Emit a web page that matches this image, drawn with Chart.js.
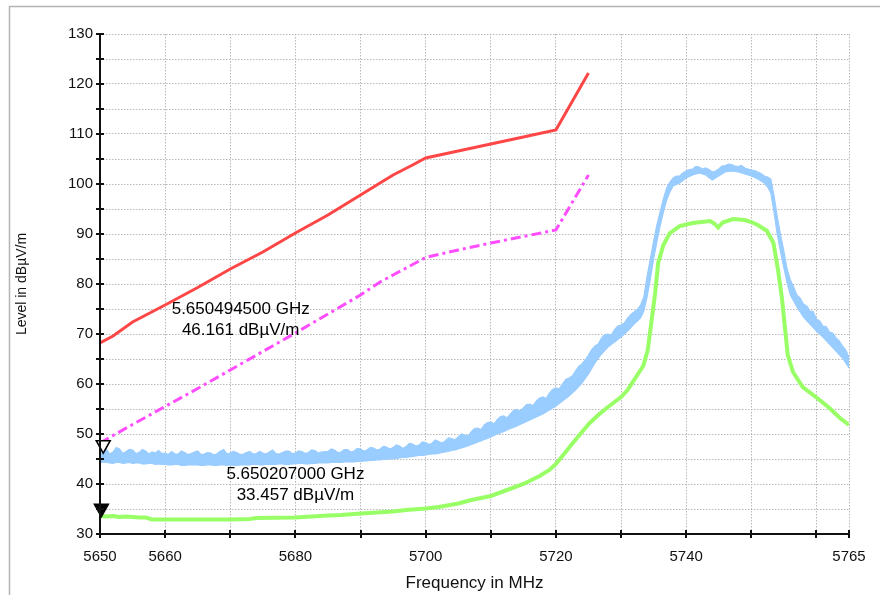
<!DOCTYPE html>
<html>
<head>
<meta charset="utf-8">
<script src="https://cdn.jsdelivr.net/npm/chart.js@4.4.1/dist/chart.umd.min.js"></script>
<style>
  html, body { margin: 0; padding: 0; background: #fff; }
  canvas { display: block; }
</style>
</head>
<body>
<canvas id="chart" width="880" height="595"></canvas>
<script>
// limit lines (red = peak limit, magenta = average limit)
const limitFreq = [5650, 5652, 5655, 5660, 5665, 5670, 5675, 5680, 5685, 5690, 5693, 5695, 5698, 5700, 5705, 5710, 5715, 5720, 5725];
const limitPeak = [68.2, 69.6, 72.4, 75.8, 79.3, 83.0, 86.4, 90.2, 93.8, 97.8, 100.2, 101.8, 103.8, 105.2, 106.6, 108.0, 109.4, 110.8, 122.2];
const limitAvg  = [48.2, 49.7, 51.9, 55.5, 59.1, 62.8, 66.5, 70.2, 74.0, 77.8, 80.4, 81.8, 83.9, 85.3, 86.8, 88.2, 89.5, 90.8, 101.8];

// peak trace (noisy), top and bottom of the band, one value every 0.5 MHz from 5650 to 5765
const peakStart = 5650;
const peakStep = 0.5;
const peakHigh = [
  46.6, 46.2, 46.9, 46.0, 46.4, 47.3, 47.0, 46.1, 46.5, 46.9,
  46.8, 46.1, 46.3, 46.9, 46.6, 46.0, 46.4, 46.2, 46.7, 46.1,
  46.2, 45.9, 46.5, 46.0, 46.0, 46.6, 46.3, 45.9, 46.1, 46.4,
  46.6, 45.9, 46.0, 46.3, 46.2, 45.8, 46.1, 46.6, 46.9, 46.0,
  46.2, 46.5, 46.3, 45.9, 46.0, 46.3, 46.5, 46.0, 46.1, 46.5,
  46.2, 46.0, 46.4, 46.8, 46.1, 46.0, 46.3, 46.6, 46.6, 46.1,
  46.2, 46.6, 46.5, 46.1, 46.3, 46.8, 46.7, 46.2, 46.4, 46.5,
  46.5, 47.0, 46.8, 46.3, 46.4, 46.9, 46.9, 46.4, 46.6, 47.1,
  47.0, 46.6, 46.8, 47.3, 47.2, 46.8, 47.0, 47.5, 47.4, 47.0,
  47.3, 47.8, 47.6, 47.1, 47.5, 48.1, 48.0, 47.6, 47.8, 48.4,
  48.3, 47.9, 48.2, 48.8, 48.5, 48.2, 48.6, 49.2, 49.1, 48.8,
  49.4, 50.0, 49.8, 49.6, 50.4, 51.1, 51.2, 50.9, 51.8, 52.3,
  52.4, 52.0, 52.9, 53.5, 53.6, 53.2, 54.0, 54.7, 54.9, 54.6,
  55.2, 55.9, 56.0, 55.7, 56.6, 57.2, 57.4, 57.1, 58.2, 58.9,
  59.2, 59.0, 60.0, 60.9, 61.2, 61.6, 62.6, 63.5, 64.0, 64.8,
  65.8, 66.9, 67.6, 68.0, 69.2, 69.9, 70.0, 69.8, 70.9, 71.6,
  71.8, 72.2, 73.2, 73.9, 74.4, 74.9, 75.8, 77.4, 81.6, 85.0,
  88.6, 91.8, 94.4, 97.0, 99.2, 100.4, 101.2, 101.6, 101.6, 102.2,
  102.6, 102.9, 103.0, 103.5, 103.4, 103.0, 103.2, 102.9, 102.4, 102.6,
  103.0, 103.6, 103.7, 104.0, 103.9, 103.6, 103.5, 103.7, 103.2, 103.0,
  102.8, 102.7, 102.4, 102.1, 101.6, 101.4, 101.0, 97.6, 93.4, 89.8,
  86.6, 83.0, 80.8, 79.4, 77.8, 77.2, 76.0, 75.6, 74.6, 74.5,
  73.0, 72.6, 71.6, 71.5, 70.4, 70.2, 69.2, 68.6, 67.6, 66.8,
  65.4
];
const peakLow = [
  44.2, 44.4, 44.3, 44.2, 44.1, 44.3, 44.3, 44.1, 44.2, 44.3,
  44.1, 44.2, 44.2, 44.0, 44.0, 44.1, 44.1, 43.9, 44.0, 43.9,
  43.9, 43.8, 43.8, 43.9, 43.9, 43.7, 43.7, 43.8, 43.8, 43.8,
  43.8, 43.7, 43.7, 43.8, 43.8, 43.7, 43.7, 43.8, 43.8, 43.7,
  43.8, 43.7, 43.7, 43.8, 43.8, 43.8, 43.8, 43.9, 43.9, 43.8,
  43.8, 43.9, 43.9, 43.9, 43.9, 44.0, 44.0, 43.9, 43.9, 44.0,
  44.0, 44.1, 44.1, 44.0, 44.0, 44.1, 44.1, 44.2, 44.2, 44.2,
  44.2, 44.3, 44.3, 44.3, 44.3, 44.4, 44.4, 44.4, 44.4, 44.5,
  44.5, 44.6, 44.6, 44.7, 44.7, 44.8, 44.8, 44.9, 44.9, 45.0,
  45.0, 45.1, 45.2, 45.3, 45.3, 45.4, 45.5, 45.6, 45.7, 45.7,
  45.8, 45.9, 46.0, 46.0, 46.1, 46.3, 46.4, 46.5, 46.7, 46.8,
  47.0, 47.2, 47.4, 47.6, 47.9, 48.1, 48.4, 48.6, 48.9, 49.1,
  49.4, 49.7, 50.0, 50.2, 50.5, 50.8, 51.1, 51.3, 51.6, 51.9,
  52.2, 52.5, 52.8, 53.1, 53.4, 53.7, 54.0, 54.4, 54.8, 55.2,
  55.6, 56.1, 56.6, 57.1, 57.6, 58.2, 58.8, 59.5, 60.2, 61.1,
  62.0, 63.1, 64.2, 65.1, 66.0, 66.7, 67.4, 67.9, 68.4, 68.9,
  69.4, 70.0, 70.6, 71.3, 72.0, 72.6, 73.2, 74.6, 77.4, 81.0,
  85.0, 88.4, 91.6, 94.4, 96.8, 98.4, 99.6, 99.9, 100.2, 100.7,
  101.2, 101.5, 101.8, 102.0, 102.2, 102.0, 101.8, 101.3, 100.8, 101.2,
  101.6, 102.0, 102.4, 102.5, 102.6, 102.5, 102.4, 102.2, 102.0, 101.8,
  101.6, 101.3, 101.0, 100.6, 100.2, 99.4, 98.2, 94.2, 89.8, 86.4,
  83.2, 80.2, 77.8, 76.6, 75.4, 74.4, 73.4, 72.7, 72.0, 71.3,
  70.6, 70.0, 69.4, 68.7, 68.0, 67.3, 66.6, 65.9, 65.2, 64.2,
  63.2
];

// average trace
const avgFreq = [5650, 5651, 5652, 5653, 5654, 5655, 5656, 5657, 5658, 5660, 5665, 5670, 5673, 5674, 5680, 5685, 5687, 5690, 5695, 5697, 5700, 5702, 5705, 5707, 5710, 5712.5, 5715, 5717.5, 5719, 5720, 5721, 5722.6, 5724, 5725.2, 5726.5, 5727.8, 5729, 5730, 5731, 5731.8, 5732.6, 5733.4, 5734.1, 5734.7, 5735.2, 5735.7, 5736.5, 5737.5, 5739, 5741, 5743.7, 5744.4, 5744.9, 5745.6, 5747.2, 5749, 5750, 5751, 5752.4, 5753.4, 5754.1, 5754.7, 5755.2, 5755.6, 5756.4, 5757.9, 5760.1, 5762, 5763.6, 5765];
const avgLevel = [33.6, 33.5, 33.6, 33.4, 33.5, 33.4, 33.3, 33.3, 32.9, 32.9, 32.9, 32.9, 33.0, 33.2, 33.3, 33.7, 33.8, 34.1, 34.5, 34.8, 35.1, 35.4, 36.1, 36.8, 37.6, 38.8, 40.0, 41.6, 42.8, 44.0, 45.6, 48.2, 50.4, 52.2, 53.8, 55.2, 56.4, 57.4, 58.8, 60.4, 62.0, 63.6, 66.8, 72.8, 77.8, 84.2, 87.8, 90.2, 91.6, 92.2, 92.6, 92.0, 91.3, 92.3, 93.0, 92.8, 92.4, 91.8, 90.6, 88.2, 82.8, 77.2, 70.8, 65.8, 62.4, 59.4, 57.2, 55.2, 53.2, 51.8];

// markers
const markerFreq = [5650.4945, 5650.207];
const markerLevel = [46.161, 33.457];
const markerFilled = [false, true];
const markerText = [
  ['5.650494500 GHz', '46.161 dBµV/m'],
  ['5.650207000 GHz', '33.457 dBµV/m']
];

// axes
const xTickValues = [5650, 5660, 5670, 5680, 5690, 5700, 5710, 5720, 5730, 5740, 5750, 5760, 5765];
const xTickLabels = [5650, 5660, 5680, 5700, 5720, 5740, 5765];
const yTickLabels = [30, 40, 50, 60, 70, 80, 90, 100, 110, 120, 130];

const toPoints = (xs, ys) => ys.map((y, i) => ({ x: xs[i], y: y }));
const peakFreq = peakHigh.map((_, i) => peakStart + i * peakStep);

const framePlugin = {
  id: 'frame',
  beforeDraw(chart) {
    const ctx = chart.ctx;
    ctx.save();
    ctx.fillStyle = '#fff';
    ctx.fillRect(0, 0, chart.width, chart.height);
    ctx.strokeStyle = '#b4b4b4';
    ctx.lineWidth = 1.5;
    ctx.strokeRect(9.5, 6.5, chart.width + 20, chart.height + 20);
    ctx.restore();
  }
};

const axesPlugin = {
  id: 'axes',
  afterDraw(chart) {
    const ctx = chart.ctx;
    const xs = chart.scales.x, ys = chart.scales.y;
    const a = chart.chartArea;
    ctx.save();
    ctx.strokeStyle = '#111';
    ctx.lineWidth = 2;
    ctx.beginPath();
    ctx.moveTo(a.left, a.top);
    ctx.lineTo(a.left, a.bottom);
    ctx.lineTo(a.right, a.bottom);
    ctx.stroke();
    ys.ticks.forEach(t => {
      const y = Math.round(ys.getPixelForValue(t.value));
      ctx.beginPath();
      ctx.moveTo(a.left - 4, y);
      ctx.lineTo(a.left + 4, y);
      ctx.stroke();
    });
    xs.ticks.forEach(t => {
      const x = Math.round(xs.getPixelForValue(t.value));
      ctx.beginPath();
      ctx.moveTo(x, a.bottom - 4);
      ctx.lineTo(x, a.bottom + 4);
      ctx.stroke();
    });
    ctx.restore();
  }
};

const markerPlugin = {
  id: 'markers',
  afterDatasetsDraw(chart, args, opts) {
    const ctx = chart.ctx;
    const xs = chart.scales.x, ys = chart.scales.y;
    ctx.save();
    markerFreq.forEach((f, i) => {
      const px = xs.getPixelForValue(f);
      const py = ys.getPixelForValue(markerLevel[i]);
      ctx.beginPath();
      ctx.moveTo(px, py);
      ctx.lineTo(px - 7, py - 12.5);
      ctx.lineTo(px + 7, py - 12.5);
      ctx.closePath();
      ctx.lineWidth = 1.5;
      ctx.strokeStyle = '#000';
      ctx.fillStyle = markerFilled[i] ? '#000' : '#fff';
      ctx.fill();
      ctx.stroke();
      // readout text
      const lx = xs.getPixelForValue(opts.labelFreq[i]);
      const ly = ys.getPixelForValue(opts.labelLevel[i]);
      ctx.fillStyle = '#000';
      ctx.font = '17px "Liberation Sans", Arial, sans-serif';
      ctx.textAlign = 'center';
      ctx.textBaseline = 'middle';
      markerText[i].forEach((s, k) => ctx.fillText(s, lx, ly + k * 21));
    });
    ctx.restore();
  }
};

new Chart(document.getElementById('chart'), {
  type: 'line',
  data: {
    datasets: [
      {
        label: 'Peak limit',
        data: toPoints(limitFreq, limitPeak),
        borderColor: '#ff4646',
        borderWidth: 3,
        pointRadius: 0
      },
      {
        label: 'Average limit',
        data: toPoints(limitFreq, limitAvg),
        borderColor: '#ff4dff',
        borderWidth: 3,
        borderDash: [10, 4, 3, 4],
        pointRadius: 0
      },
      {
        label: 'Peak',
        data: toPoints(peakFreq, peakHigh),
        borderColor: '#99ccff',
        borderWidth: 1.2,
        pointRadius: 0
      },
      {
        label: 'Peak (band floor)',
        data: toPoints(peakFreq, peakLow),
        borderColor: '#99ccff',
        backgroundColor: '#99ccff',
        borderWidth: 1.2,
        pointRadius: 0,
        fill: '-1'
      },
      {
        label: 'Average',
        data: toPoints(avgFreq, avgLevel),
        borderColor: '#99ff66',
        borderWidth: 4,
        pointRadius: 0
      }
    ]
  },
  options: {
    responsive: false,
    animation: false,
    layout: { padding: { top: 34, right: 31, bottom: 0, left: 0 } },
    plugins: {
      legend: { display: false },
      tooltip: { enabled: false },
      filler: { propagate: false },
      markers: {
        labelFreq: [5671.6, 5680.0],
        labelLevel: [75.0, 42.0]
      }
    },
    scales: {
      x: {
        type: 'linear',
        min: 5650,
        max: 5765,
        afterBuildTicks: s => { s.ticks = xTickValues.map(v => ({ value: v })); },
        afterFit: s => { s.height = 61; },
        grid: { color: '#b8b8b8', lineWidth: 1, drawTicks: false },
        border: { display: false, dash: [1.5, 1.5] },
        ticks: {
          autoSkip: false,
          maxRotation: 0,
          padding: 14,
          color: '#111',
          font: { family: '"Liberation Sans", Arial, sans-serif', size: 15 },
          callback: v => xTickLabels.includes(v) ? String(v) : ''
        },
        title: {
          display: true,
          text: 'Frequency in MHz',
          color: '#111',
          font: { family: '"Liberation Sans", Arial, sans-serif', size: 17 },
          padding: { top: 0, bottom: 1 }
        }
      },
      y: {
        min: 30,
        max: 130,
        afterFit: s => { s.width = 100; },
        grid: { color: '#b8b8b8', lineWidth: 1, drawTicks: false },
        border: { display: false, dash: [1.5, 1.5] },
        ticks: {
          stepSize: 5,
          padding: 7,
          color: '#111',
          font: { family: '"Liberation Sans", Arial, sans-serif', size: 15 },
          callback: v => yTickLabels.includes(v) ? String(v) : ''
        },
        title: {
          display: true,
          text: 'Level in dBµV/m',
          color: '#111',
          font: { family: '"Liberation Sans", Arial, sans-serif', size: 14 },
          padding: { top: 14, bottom: 0 }
        }
      }
    }
  },
  plugins: [framePlugin, axesPlugin, markerPlugin]
});
</script>
</body>
</html>
